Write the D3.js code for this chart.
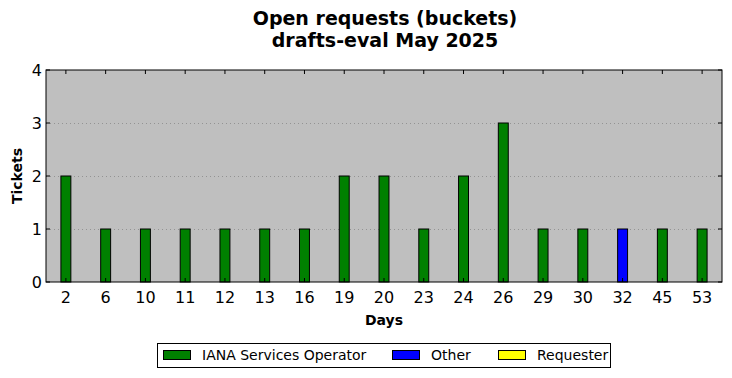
<!DOCTYPE html>
<html>
<head>
<meta charset="utf-8">
<script src="https://cdn.jsdelivr.net/npm/d3@7"></script>
<style>
  body { margin: 0; background: #fff; }
  svg { display: block; font-family: "DejaVu Sans", sans-serif; }
</style>
</head>
<body>
<svg id="chart" width="732" height="378"></svg>
<script>
const days = ["2", "6", "10", "11", "12", "13", "16", "19", "20", "23", "24", "26", "29", "30", "32", "45", "53"];
const iana = [2, 1, 1, 1, 1, 1, 1, 2, 2, 1, 2, 3, 1, 1, 0, 1, 1];
const other = [0, 0, 0, 0, 0, 0, 0, 0, 0, 0, 0, 0, 0, 0, 1, 0, 0];
const requester = [0, 0, 0, 0, 0, 0, 0, 0, 0, 0, 0, 0, 0, 0, 0, 0, 0];
const yTicks = [0, 1, 2, 3, 4];

const series = [
  { name: "IANA Services Operator", color: "#008000", values: iana },
  { name: "Other", color: "#0000ff", values: other },
  { name: "Requester", color: "#ffff00", values: requester }
];

const svg = d3.select("#chart");
const pL = 46, pR = 722, pT = 70, pB = 282;

const x = d3.scaleBand().domain(days).range([pL, pR]);
const y = d3.scaleLinear().domain([0, 4]).range([pB, pT]);

// fondo del área
svg.append("rect")
  .attr("x", pL).attr("y", pT)
  .attr("width", pR - pL).attr("height", pB - pT)
  .attr("fill", "#bfbfbf");

// rejilla punteada
svg.selectAll(".grid")
  .data(yTicks.filter(d => d > 0 && d < 4))
  .join("line")
  .attr("x1", pL).attr("x2", pR)
  .attr("y1", d => y(d) + 0.5).attr("y2", d => y(d) + 0.5)
  .attr("stroke", "#888").attr("stroke-width", 0.8)
  .attr("stroke-dasharray", "1,3");

// barras apiladas
const barW = x.bandwidth() * 0.25;
const base = days.map(() => 0);
series.forEach(s => {
  days.forEach((d, i) => {
    const v = s.values[i];
    if (v > 0) {
      svg.append("rect")
        .attr("x", x(d) + x.bandwidth() / 2 - barW / 2)
        .attr("y", y(base[i] + v))
        .attr("width", barW)
        .attr("height", y(base[i]) - y(base[i] + v))
        .attr("fill", s.color)
        .attr("stroke", "#000").attr("stroke-width", 1);
    }
    base[i] += v;
  });
});

// marco
svg.append("rect")
  .attr("x", pL).attr("y", pT)
  .attr("width", pR - pL).attr("height", pB - pT)
  .attr("fill", "none").attr("stroke", "#000").attr("stroke-width", 1);

// ticks hacia dentro
days.forEach(d => {
  const cx = x(d) + x.bandwidth() / 2;
  svg.append("line").attr("x1", cx).attr("x2", cx).attr("y1", pB).attr("y2", pB - 4).attr("stroke", "#000");
  svg.append("line").attr("x1", cx).attr("x2", cx).attr("y1", pT).attr("y2", pT + 4).attr("stroke", "#000");
  svg.append("text").attr("x", cx).attr("y", pB + 21)
    .attr("text-anchor", "middle").attr("font-size", 16).text(d);
});
yTicks.forEach(t => {
  svg.append("line").attr("x1", pL).attr("x2", pL + 4).attr("y1", y(t)).attr("y2", y(t)).attr("stroke", "#000");
  svg.append("line").attr("x1", pR).attr("x2", pR - 4).attr("y1", y(t)).attr("y2", y(t)).attr("stroke", "#000");
  svg.append("text").attr("x", pL - 4).attr("y", y(t) + 6)
    .attr("text-anchor", "end").attr("font-size", 16).text(t);
});

// títulos
svg.append("text").attr("x", 385).attr("y", 25).attr("text-anchor", "middle")
  .attr("font-size", 19).attr("font-weight", "bold").text("Open requests (buckets)");
svg.append("text").attr("x", 385).attr("y", 47).attr("text-anchor", "middle")
  .attr("font-size", 19).attr("font-weight", "bold").text("drafts-eval May 2025");
svg.append("text").attr("x", 384).attr("y", 325).attr("text-anchor", "middle")
  .attr("font-size", 14).attr("font-weight", "bold").text("Days");
svg.append("text").attr("transform", "translate(22,176) rotate(-90)").attr("text-anchor", "middle")
  .attr("font-size", 14).attr("font-weight", "bold").text("Tickets");

// leyenda
svg.append("rect").attr("x", 157.5).attr("y", 343.5).attr("width", 453).attr("height", 24)
  .attr("fill", "#fff").attr("stroke", "#000");
const legX = [163, 392, 498];
series.forEach((s, i) => {
  svg.append("rect").attr("x", legX[i] + 0.5).attr("y", 350.5).attr("width", 27).attr("height", 9)
    .attr("fill", s.color).attr("stroke", "#000");
  svg.append("text").attr("x", legX[i] + 39).attr("y", 360).attr("font-size", 14).text(s.name);
});
</script>
</body>
</html>
